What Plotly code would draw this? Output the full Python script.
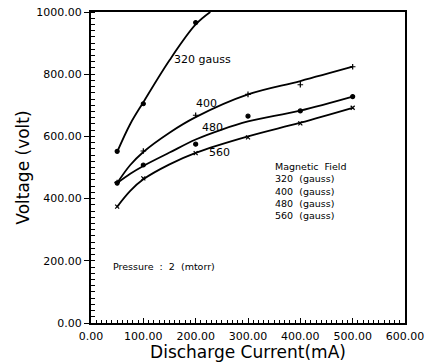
import plotly.graph_objects as go

# ---- data ----
fields = ["320", "400", "480", "560"]

# measured points (Discharge current mA, Voltage V)
pts_x = {
    "320": [50, 100, 200],
    "400": [50, 100, 200, 300, 400, 500],
    "480": [50, 100, 200, 300, 400, 500],
    "560": [50, 100, 200, 300, 400, 500],
}
pts_v = {
    "320": [552, 705, 966],
    "400": [452, 553, 668, 735, 766, 824],
    "480": [450, 508, 575, 665, 682, 728],
    "560": [374, 465, 546, 597, 642, 692],
}

# drawn smooth curves, read at a few currents
curve_x = {
    "320": [50, 75, 100, 150, 200, 228],
    "400": [50, 75, 100, 150, 200, 300, 400, 500],
    "480": [50, 75, 100, 150, 200, 250, 300, 400, 500],
    "560": [50, 75, 100, 150, 200, 300, 400, 500],
}
curve_v = {
    "320": [550, 640, 710, 845, 960, 1000],
    "400": [450, 508, 550, 612, 662, 735, 778, 824],
    "480": [450, 480, 505, 548, 590, 622, 648, 683, 728],
    "560": [374, 425, 462, 510, 547, 600, 644, 692],
}

x_ticks = [0, 100, 200, 300, 400, 500, 600]
y_ticks = [0, 200, 400, 600, 800, 1000]

markers = {"320": "circle", "400": "cross-thin", "480": "circle", "560": "x-thin"}

fig = go.Figure()
for f in fields:
    fig.add_trace(go.Scatter(
        x=curve_x[f], y=curve_v[f], mode="lines",
        line=dict(color="black", width=1.8, shape="spline", smoothing=1.0),
        showlegend=False, hoverinfo="skip"))
    fig.add_trace(go.Scatter(
        x=pts_x[f], y=pts_v[f], mode="markers",
        marker=dict(symbol=markers[f], size=4, color="black",
                    line=dict(color="black", width=1.2)),
        showlegend=False))

tfont = dict(family="DejaVu Sans", size=11, color="black")
afont = dict(family="DejaVu Sans", size=17, color="black")

fig.update_layout(
    width=428, height=362,
    margin=dict(l=91, r=23, t=12, b=39, autoexpand=False),
    paper_bgcolor="white", plot_bgcolor="white",
    xaxis=dict(range=[0, 600], tickvals=x_ticks, automargin=False,
               ticktext=[f"{v:.2f}" for v in x_ticks],
               showgrid=False, zeroline=False, showline=True, mirror=True,
               linecolor="black", linewidth=2,
               ticks="inside", ticklen=5, tickwidth=1.2, tickcolor="black",
               ticklabelstandoff=2,
               minor=dict(dtick=10, ticks="inside", ticklen=3, tickwidth=1, tickcolor="black"),
               tickfont=tfont,
               title=dict(text="Discharge Current(mA)", font=afont, standoff=6)),
    yaxis=dict(range=[0, 1000], tickvals=y_ticks, automargin=False,
               ticktext=[f"{v:.2f}" for v in y_ticks],
               showgrid=False, zeroline=False, showline=True, mirror=True,
               linecolor="black", linewidth=2,
               ticks="outside", ticklen=5, tickwidth=1.2, tickcolor="black",
               minor=dict(dtick=20, ticks="inside", ticklen=4, tickwidth=1, tickcolor="black"),
               tickfont=tfont,
               title=dict(text="Voltage (volt)", font=afont, standoff=2)),
)

lab = dict(family="DejaVu Sans", size=11, color="black")
small = dict(family="DejaVu Sans", size=9.5, color="black")
fig.add_annotation(x=155, y=846, text="320 gauss", showarrow=False, xanchor="left", font=lab)
fig.add_annotation(x=196, y=707, text="400", showarrow=False, xanchor="left", font=lab)
fig.add_annotation(x=209, y=630, text="480", showarrow=False, xanchor="left", font=lab)
fig.add_annotation(x=222, y=547, text="560", showarrow=False, xanchor="left", font=lab)

legend_lines = ["Magnetic  Field"] + [f"{f}  (gauss)" for f in fields]
fig.add_annotation(x=348, y=527, text="<br>".join(legend_lines), showarrow=False,
                   xanchor="left", yanchor="top", align="left", font=small)

fig.add_annotation(x=38, y=183, text="Pressure  :  2  (mtorr)", showarrow=False, xanchor="left", font=small)

fig.write_html("out.html")
